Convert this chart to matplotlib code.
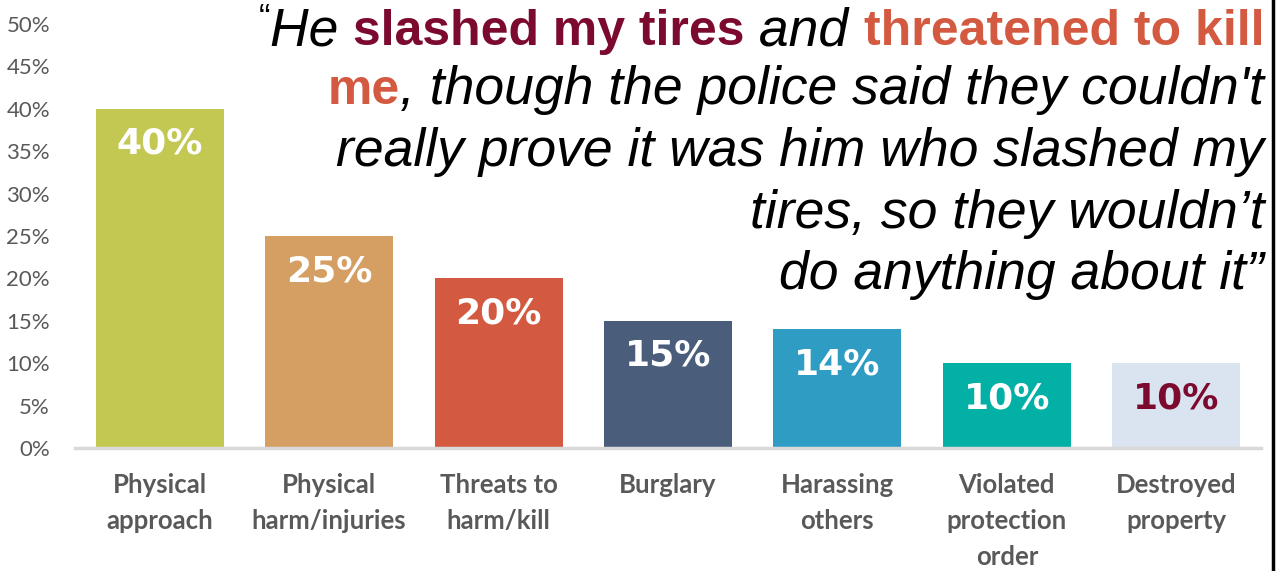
import matplotlib
matplotlib.use("Agg")
import matplotlib.pyplot as plt
from matplotlib.ticker import FuncFormatter

categories = ["Physical\napproach", "Physical\nharm/injuries", "Threats to\nharm/kill",
              "Burglary", "Harassing\nothers", "Violated\nprotection\norder", "Destroyed\nproperty"]
values = [0.40, 0.25, 0.20, 0.15, 0.14, 0.10, 0.10]
value_labels = ["40%", "25%", "20%", "15%", "14%", "10%", "10%"]
bar_colors = ["#C3C853", "#D59F64", "#D35A40", "#4A5E7C", "#2F9DC3", "#02B0A6", "#DAE3F0"]
label_colors = ["white"] * 6 + ["#7B0A2E"]
yticks = [0.0, 0.05, 0.10, 0.15, 0.20, 0.25, 0.30, 0.35, 0.40, 0.45, 0.50]

DARK = "#7B0A2E"
ORANGE = "#D35A40"
quote_lines = [
    [("\u201c", "q"), ("He ", "i"), ("slashed my tires", "b", DARK), (" and ", "i"), ("threatened to kill", "b", ORANGE)],
    [("me", "b", ORANGE), (", though the police said they couldn't", "i")],
    [("really prove it was him who slashed my", "i")],
    [("tires, so they wouldn\u2019t", "i")],
    [("do anything about it\u201d", "i")],
]

W, H = 1280, 571
fig = plt.figure(figsize=(W / 100, H / 100), dpi=100)
ax = fig.add_axes([75 / W, 1 - 448 / H, (1261 - 75) / W, (448 - 24) / H])

x = list(range(len(values)))
ax.bar(x, values, width=0.755, color=bar_colors, zorder=2)
ax.set_xlim(-0.5, len(values) - 0.5)
ax.set_ylim(0, 0.5)
ax.set_yticks(yticks)
ax.yaxis.set_major_formatter(FuncFormatter(lambda v, p: f"{v*100:.0f}%"))
ax.set_xticks(x)
ax.set_xticklabels(categories, fontsize=18.5, color="#595959", fontfamily="Lato",
                   fontweight="bold", linespacing=1.6, va="top")
for lbl in ax.get_yticklabels():
    lbl.set_fontsize(16)
    lbl.set_color("#595959")
    lbl.set_fontfamily("Lato")
ax.tick_params(axis="y", length=0, pad=18)
ax.tick_params(axis="x", length=0, pad=18)
for s in ["top", "right", "left"]:
    ax.spines[s].set_visible(False)
ax.spines["bottom"].set_color("#D9D9D9")
ax.spines["bottom"].set_linewidth(2.5)
ax.spines["bottom"].set_zorder(3)

for xi, v, t, c in zip(x, values, value_labels, label_colors):
    ax.annotate(t, (xi, v), xytext=(0, -35), textcoords="offset pixels",
                ha="center", va="center", fontsize=26, fontweight="bold",
                color=c, fontfamily="DejaVu Sans", zorder=4)

# quote block, right-aligned
fig.canvas.draw()
renderer = fig.canvas.get_renderer()
right_px = 1264
baselines = [45, 104, 166, 228, 289]
fs_i = 38.5
fs_b = 36
for line, base in zip(quote_lines, baselines):
    texts = []
    for seg in line:
        s, kind = seg[0], seg[1]
        if kind == "i":
            t = fig.text(0, 0, s, fontsize=fs_i, fontstyle="italic", fontfamily="Liberation Sans",
                         color="black", va="baseline", ha="left")
        elif kind == "b":
            t = fig.text(0, 0, s, fontsize=fs_b, fontweight="bold", fontfamily="Liberation Sans",
                         color=seg[2], va="baseline", ha="left")
        else:
            t = fig.text(0, 0, s, fontsize=fs_i * 0.65, fontfamily="Liberation Sans",
                         color="black", va="baseline", ha="left")
        texts.append(t)
    widths = [t.get_window_extent(renderer).width for t in texts]
    cur = right_px - sum(widths)
    for t, w, seg in zip(texts, widths, line):
        yb = base + (-17 if seg[1] == "q" else 0)
        t.set_position((cur / W, 1 - yb / H))
        cur += w

fig.add_artist(plt.Line2D([1273 / W, 1273 / W], [0, 1], color="black", lw=2.5))
fig.savefig("out.png", dpi=100)
